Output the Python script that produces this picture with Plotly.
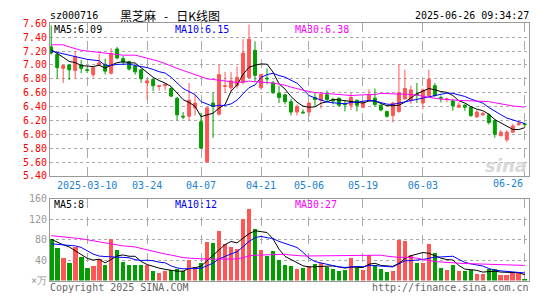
import pandas as pd
import plotly.graph_objects as go

# ---------------- data ----------------
holidays = ['2025-04-04', '2025-05-01', '2025-05-02', '2025-05-05', '2025-06-02']
dates = [d.strftime('%Y-%m-%d') for d in pd.bdate_range('2025-02-28', '2025-06-26')
         if d.strftime('%Y-%m-%d') not in holidays]

open_ = [7.26, 7.15, 6.95, 7.00, 6.92, 7.00, 6.93, 6.86, 7.00, 7.01,
         6.88, 7.23, 7.09, 7.05, 6.98, 6.93, 6.74, 6.79, 6.69, 6.70,
         6.66, 6.52, 6.26, 6.26, 6.38, 6.18, 5.60, 6.45, 6.29, 6.69,
         6.67, 6.70, 6.75, 6.82, 7.21, 6.67, 6.81, 6.74, 6.59, 6.57,
         6.47, 6.32, 6.32, 6.32, 6.53, 6.49, 6.57, 6.50, 6.52, 6.44,
         6.42, 6.49, 6.39, 6.49, 6.52, 6.42, 6.33, 6.27, 6.33, 6.51,
         6.49, 6.58, 6.45, 6.56, 6.70, 6.53, 6.50, 6.48, 6.39, 6.42,
         6.39, 6.25, 6.28, 6.28, 6.20, 5.98, 5.92, 6.03, 6.14, 6.15]
high = [7.57, 7.16, 7.00, 7.01, 7.20, 7.07, 6.96, 6.97, 7.16, 7.09,
        7.24, 7.26, 7.13, 7.06, 7.00, 6.94, 6.81, 6.80, 6.71, 6.74,
        6.68, 6.54, 6.32, 6.74, 6.57, 6.31, 6.39, 6.60, 7.00, 6.90,
        6.90, 6.98, 7.37, 7.58, 7.34, 6.87, 6.95, 6.77, 6.70, 6.58,
        6.51, 6.43, 6.36, 6.46, 6.60, 6.59, 6.63, 6.53, 6.53, 6.49,
        6.60, 6.50, 6.48, 6.65, 6.66, 6.43, 6.34, 6.47, 7.01, 6.93,
        6.70, 6.74, 6.66, 6.93, 6.74, 6.56, 6.53, 6.51, 6.46, 6.43,
        6.40, 6.35, 6.32, 6.30, 6.21, 6.06, 6.06, 6.15, 6.19, 6.17]
low = [7.15, 6.80, 6.74, 6.78, 6.81, 6.88, 6.88, 6.82, 6.99, 6.86,
       6.86, 7.08, 7.00, 6.92, 6.86, 6.74, 6.50, 6.62, 6.63, 6.63,
       6.54, 6.20, 6.22, 6.20, 6.27, 5.80, 5.60, 5.95, 6.27, 6.60,
       6.62, 6.66, 6.72, 6.80, 6.76, 6.64, 6.72, 6.58, 6.45, 6.43,
       6.27, 6.27, 6.30, 6.26, 6.41, 6.37, 6.48, 6.43, 6.40, 6.33,
       6.35, 6.33, 6.38, 6.48, 6.40, 6.33, 6.24, 6.17, 6.31, 6.50,
       6.44, 6.45, 6.36, 6.54, 6.54, 6.46, 6.46, 6.34, 6.38, 6.34,
       6.25, 6.24, 6.26, 6.14, 5.95, 5.97, 5.89, 6.02, 6.12, 6.10]
close = [7.17, 6.96, 6.99, 6.93, 7.12, 6.95, 6.92, 6.96, 7.03, 6.91,
         7.16, 7.10, 7.04, 6.94, 6.90, 6.80, 6.77, 6.70, 6.70, 6.72,
         6.55, 6.28, 6.25, 6.49, 6.45, 5.80, 6.38, 6.40, 6.86, 6.70,
         6.77, 6.82, 7.17, 7.37, 6.85, 6.86, 6.80, 6.60, 6.53, 6.47,
         6.32, 6.40, 6.31, 6.45, 6.50, 6.58, 6.50, 6.48, 6.42, 6.43,
         6.53, 6.42, 6.45, 6.57, 6.43, 6.35, 6.26, 6.45, 6.60, 6.66,
         6.64, 6.57, 6.64, 6.79, 6.56, 6.52, 6.51, 6.41, 6.42, 6.39,
         6.27, 6.32, 6.30, 6.17, 6.00, 6.03, 6.03, 6.12, 6.16, 6.14]
volume = [82, 64, 45, 35, 66, 47, 25, 28, 43, 30,
          81, 60, 37, 30, 30, 30, 30, 18, 14, 18,
          20, 22, 18, 40, 26, 35, 75, 73, 98, 72,
          65, 61, 120, 141, 101, 60, 49, 58, 40, 30,
          28, 22, 25, 28, 32, 35, 26, 23, 18, 20,
          45, 25, 20, 50, 30, 23, 17, 19, 80, 77,
          50, 34, 34, 72, 55, 25, 20, 30, 18, 19,
          20, 13, 13, 23, 23, 11, 11, 16, 16, 3]

# moving-average values before a full window exists
ma5_head = [7.22, 7.17, 7.11, 7.05]
ma10_head = [7.20, 7.18, 7.15, 7.13, 7.11, 7.09, 7.08, 7.07, 7.06]
ma30_head = [7.29, 7.29, 7.29, 7.26, 7.23, 7.21, 7.20, 7.19, 7.17, 7.16,
             7.15, 7.15, 7.14, 7.14, 7.14, 7.12, 7.10, 7.08, 7.05, 7.02,
             6.98, 6.95, 6.92, 6.89, 6.86, 6.83, 6.80, 6.79, 6.78]
vma5_head = [81, 75, 70, 66]
vma10_head = [72, 71, 70, 69, 68, 65, 58, 52, 48]
vma30_head = [88, 87, 86, 85, 84, 82, 80, 78, 76, 74,
              71, 69, 68, 67, 66, 63, 60, 57, 54, 52,
              50, 47, 45, 44, 43, 43, 42, 42, 42]

# header values as printed on the chart
price_ma_labels = ['MA5:6.09', 'MA10:6.15', 'MA30:6.38']
vol_ma_labels = ['MA5:8', 'MA10:12', 'MA30:27']

tick_dates = ['2025-03-10', '2025-03-24', '2025-04-07', '2025-04-21',
              '2025-05-06', '2025-05-19', '2025-06-03', '2025-06-26']
tick_labels = ['2025-03-10', '03-24', '04-07', '04-21', '05-06', '05-19', '06-03', '06-26']
price_ticks = [5.4, 5.6, 5.8, 6.0, 6.2, 6.4, 6.6, 6.8, 7.0, 7.2, 7.4, 7.6]
vol_ticks = [0, 40, 80, 120, 160]
vol_tick_labels = ['×万', '40', '80', '120', '160']


def rolling(vals, n, head):
    out = list(head)
    for i in range(len(head), len(vals)):
        out.append(sum(vals[i - n + 1:i + 1]) / n)
    return out


ma5 = rolling(close, 5, ma5_head)
ma10 = rolling(close, 10, ma10_head)
ma30 = rolling(close, 30, ma30_head)
vma5 = rolling(volume, 5, vma5_head)
vma10 = rolling(volume, 10, vma10_head)
vma30 = rolling(volume, 30, vma30_head)

# ---------------- style ----------------
RED = '#FF5555'
GREEN = '#009E00'
BLUE_TXT = '#1B7FCF'
MA_COLORS = ['black', '#0000FF', '#FF00FF']
MONO = 'DejaVu Sans Mono'
CJK = 'Noto Sans CJK SC'
W, H = 545, 300
L, R = 50, 529

fig = go.Figure()
fig.add_trace(go.Candlestick(
    x=dates, open=open_, high=high, low=low, close=close,
    increasing=dict(line=dict(color=RED, width=1), fillcolor=RED),
    decreasing=dict(line=dict(color=GREEN, width=1), fillcolor=GREEN),
    whiskerwidth=0, xaxis='x', yaxis='y', hoverinfo='skip', showlegend=False))
for ys, col in zip([ma5, ma10, ma30], MA_COLORS):
    fig.add_trace(go.Scatter(x=dates, y=ys, mode='lines', line=dict(color=col, width=1),
                             xaxis='x', yaxis='y', hoverinfo='skip', showlegend=False))

vcolors = [RED if c > o else GREEN for o, c in zip(open_, close)]
fig.add_trace(go.Bar(x=dates, y=volume, marker=dict(color=vcolors, line=dict(width=0)),
                     width=0.78, xaxis='x2', yaxis='y2', hoverinfo='skip', showlegend=False))
for ys, col in zip([vma5, vma10, vma30], MA_COLORS):
    fig.add_trace(go.Scatter(x=dates, y=ys, mode='lines', line=dict(color=col, width=1),
                             xaxis='x2', yaxis='y2', hoverinfo='skip', showlegend=False))

xcommon = dict(type='category', range=[-0.2, 79.7], tickvals=tick_dates,
               showgrid=True, gridcolor='#AAAAAA', griddash='dash', gridwidth=1,
               showline=True, mirror=True, linecolor='#999999', linewidth=1,
               ticks='', zeroline=False, fixedrange=True)
ycommon = dict(showgrid=True, gridcolor='#AAAAAA', griddash='dot', gridwidth=1,
               showline=True, mirror=True, linecolor='#999999', linewidth=1,
               ticks='', zeroline=False, fixedrange=True)

fig.update_layout(
    width=W, height=H, margin=dict(l=0, r=0, t=0, b=0),
    paper_bgcolor='white', plot_bgcolor='white', showlegend=False,
    font=dict(family=MONO, size=10, color='black'),
    bargap=0,
    xaxis=dict(xcommon, domain=[L / W, R / W], anchor='y',
               ticktext=tick_labels[:-1] + [''],
               tickfont=dict(family=MONO, size=10, color=BLUE_TXT),
               rangeslider=dict(visible=False)),
    yaxis=dict(ycommon, domain=[1 - 177 / H, 1 - 18 / H], anchor='x', range=[5.4, 7.6],
               tickvals=price_ticks, ticktext=[f'{v:.2f}' for v in price_ticks],
               tickfont=dict(family=MONO, size=10, color='#FF0000')),
    xaxis2=dict(xcommon, domain=[L / W, R / W], anchor='y2', showticklabels=False),
    yaxis2=dict(ycommon, domain=[1 - 286 / H, 1 - 201 / H], anchor='x2', range=[0, 160],
                tickvals=vol_ticks, ticktext=vol_tick_labels,
                tickfont=dict(family=MONO, size=10, color='#999999')),
)


def txt(x, y, s, color='black', anchor='left', family=MONO, size=10, **kw):
    fig.add_annotation(x=x / W, y=1 - y / H, xref='paper', yref='paper', text=s,
                       showarrow=False, xanchor=anchor, yanchor='middle',
                       font=dict(family=family, size=size, color=color), **kw)


NB = '\u00a0'
txt(48, 10, 'sz000716')
txt(118, 10, f'黑芝麻{NB * 3}-{NB * 3}日K线图', family=CJK, size=12)
txt(531, 10, '2025-06-26 09:34:27', anchor='right')
for lbl, col, x in zip(price_ma_labels, MA_COLORS, [52, 173, 293]):
    txt(x, 24, lbl, color=col)
for lbl, col, x in zip(vol_ma_labels, MA_COLORS, [52, 173, 293]):
    txt(x, 207, lbl, color=col)
txt(508, 185, tick_labels[-1], color=BLUE_TXT, anchor='center')
txt(48, 293, 'Copyright 2025 SINA.COM', color='#666666')
txt(531, 293, 'http://finance.sina.com.cn', color='#666666', anchor='right')
txt(506, 166, '<b><i>sina</i></b>', color='#D8D8D8', anchor='center',
    family='DejaVu Sans', size=18)

fig.write_html('out.html', config={'displayModeBar': False},
               post_script="document.body.style.margin='0';")
